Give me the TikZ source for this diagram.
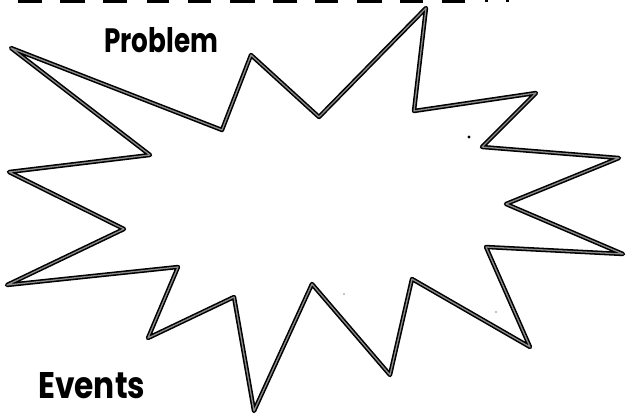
\documentclass[tikz,border=0pt]{standalone}
\usepackage{fontspec}
\setmainfont{Poppins}
\begin{document}
\begin{tikzpicture}[x=1pt,y=-1pt,
  starblack/.style={line width=4.4pt, line join=round, draw=black},
  stargray/.style={line width=1.3pt, line join=round, draw=black!45},
  topbar/.style={fill=black, draw=none},
  label/.style={inner sep=0pt, anchor=base west, font=\bfseries}]
\useasboundingbox (0,0) rectangle (626,417);
% top strip of cut-off shapes
\foreach \a/\b in {18/42,60/85,103/127,147/169,188/211,230/255,273/297,315/338,357/382,400/423,442/465}
  \fill[topbar] (\a,0) rectangle (\b,3);
\fill[topbar] (485,0) rectangle (488,2);
\fill[topbar] (506,0) rectangle (509,2);
% the burst
\coordinate (v1) at (11,48);
\coordinate (v2) at (222,130);
\coordinate (v3) at (251,55);
\coordinate (v4) at (319,117);
\coordinate (v5) at (426,8);
\coordinate (v6) at (414,111);
\coordinate (v7) at (536,93);
\coordinate (v8) at (482,147);
\coordinate (v9) at (619,158);
\coordinate (v10) at (506,204);
\coordinate (v11) at (623,254);
\coordinate (v12) at (486,247);
\coordinate (v13) at (530,347);
\coordinate (v14) at (412,279);
\coordinate (v15) at (390,375);
\coordinate (v16) at (312,284);
\coordinate (v17) at (254,411);
\coordinate (v18) at (234,297);
\coordinate (v19) at (148,338);
\coordinate (v20) at (178,267);
\coordinate (v21) at (7,285);
\coordinate (v22) at (124,229);
\coordinate (v23) at (9,172);
\coordinate (v24) at (150,155);
\draw[starblack] (v1) -- (v2) -- (v3) -- (v4) -- (v5) -- (v6) -- (v7) -- (v8) -- (v9) -- (v10) -- (v11) -- (v12) -- (v13) -- (v14) -- (v15) -- (v16) -- (v17) -- (v18) -- (v19) -- (v20) -- (v21) -- (v22) -- (v23) -- (v24) -- cycle;
\draw[stargray] (v1) -- (v2) -- (v3) -- (v4) -- (v5) -- (v6) -- (v7) -- (v8) -- (v9) -- (v10) -- (v11) -- (v12) -- (v13) -- (v14) -- (v15) -- (v16) -- (v17) -- (v18) -- (v19) -- (v20) -- (v21) -- (v22) -- (v23) -- (v24) -- cycle;
% specks
\fill (469,137) circle (1.6);
\fill (344,294) circle (0.7);
\fill (496,312) circle (0.6);
% labels
\node[label] (problem) at (104,53) {\resizebox{114pt}{25pt}{Problem}};
\node[label] (events) at (38,398) {\resizebox{107pt}{26pt}{Events}};
\end{tikzpicture}
\end{document}
